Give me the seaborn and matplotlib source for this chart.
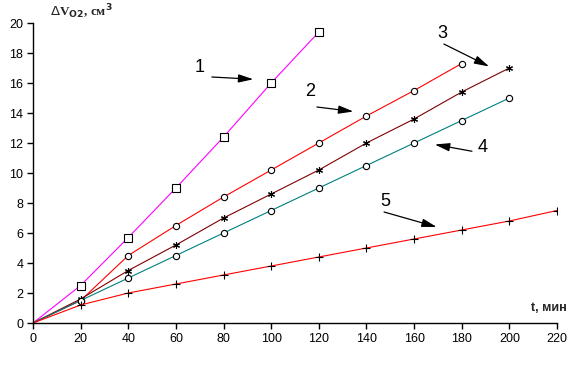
import matplotlib
matplotlib.use("Agg")
import matplotlib.pyplot as plt
import seaborn as sns
import pandas as pd

# ---- data ----
t1 = [0, 20, 40, 60, 80, 100, 120]
v1 = [0, 2.5, 5.7, 9.0, 12.4, 16.0, 19.4]

t2 = [0, 20, 40, 60, 80, 100, 120, 140, 160, 180]
v2 = [0, 1.5, 4.5, 6.5, 8.4, 10.2, 12.0, 13.8, 15.5, 17.3]

t3 = [0, 20, 40, 60, 80, 100, 120, 140, 160, 180, 200]
v3 = [0, 1.6, 3.5, 5.2, 7.0, 8.6, 10.2, 12.0, 13.6, 15.4, 17.0]

t4 = [0, 20, 40, 60, 80, 100, 120, 140, 160, 180, 200]
v4 = [0, 1.5, 3.0, 4.5, 6.0, 7.5, 9.0, 10.5, 12.0, 13.5, 15.0]

t5 = [0, 20, 40, 60, 80, 100, 120, 140, 160, 180, 200, 220]
v5 = [0, 1.2, 2.0, 2.6, 3.2, 3.8, 4.4, 5.0, 5.6, 6.2, 6.8, 7.5]

x_ticks = list(range(0, 221, 20))
y_ticks = list(range(0, 21, 2))
curve_labels = ["1", "2", "3", "4", "5"]

sns.set_style("ticks")
plt.rcParams["font.family"] = ["Liberation Sans", "DejaVu Sans"]

fig = plt.figure(figsize=(5.78, 3.73), dpi=100)
W, H = 578, 373
ax = fig.add_axes([33 / W, 1 - 323 / H, (557 - 33) / W, (323 - 23) / H])

series = [
    (t1, v1, "#FF00FF", "s", 5.5, slice(1, None)),
    (t2, v2, "#FF0000", "o", 4.5, slice(1, None)),
    (t3, v3, "#800000", (6, 2, 0), 5, slice(1, None)),
    (t4, v4, "#008080", "o", 4.5, slice(1, None)),
    (t5, v5, "#FF0000", "+", 5.5, None),
]
for t, v, c, m, ms, me in series:
    df = pd.DataFrame({"t": t, "v": v})
    sns.lineplot(data=df, x="t", y="v", ax=ax, color=c, lw=0.8,
                 marker=m, markersize=ms, mfc="white", mec="black",
                 mew=0.8, markevery=me, estimator=None, zorder=3)

ax.set_xlim(0, 220)
ax.set_ylim(0, 20)
ax.set_xticks(x_ticks)
ax.set_yticks(y_ticks)
ax.set_xlabel("")
ax.set_ylabel("")
for s in ["top", "right"]:
    ax.spines[s].set_visible(False)
for s in ["left", "bottom"]:
    ax.spines[s].set_linewidth(1.0)
    ax.spines[s].set_color("black")
ax.tick_params(axis="both", direction="out", length=4, width=1,
               labelsize=9, pad=3, colors="black")

# axis titles
fig.text(50 / W, 1 - 16 / H, r"$\Delta$V$_{\mathbf{O2}}$, см$^{\mathbf{3}}$",
         fontsize=9.5, fontweight="bold", family=["Liberation Serif", "DejaVu Serif"],
         ha="left", va="baseline")
fig.text(567 / W, 1 - 311 / H, "t, мин", fontsize=9, fontweight="bold",
         ha="right", va="baseline")

# curve labels with arrows (data coords)
label_pos = [(70.1, 17.0), (116.3, 15.4), (171.7, 19.3), (188.9, 11.7), (147.8, 8.1)]
arrows = [((75.1, 16.4), (92.5, 16.25)),
          ((119.2, 14.4), (134.5, 14.1)),
          ((172.5, 18.6), (191.5, 17.1)),
          ((184.3, 11.45), (168.7, 11.9)),
          ((147.4, 7.4), (169.5, 6.4))]
for lab, (lx, ly), (a0, a1) in zip(curve_labels, label_pos, arrows):
    ax.text(lx, ly, lab, fontsize=13, ha="center", va="center", color="black",
            family=["Liberation Sans", "DejaVu Sans"])
    ax.annotate("", xy=a1, xytext=a0,
                arrowprops=dict(arrowstyle="-|>,head_length=0.9,head_width=0.25",
                                color="black", lw=0.9, shrinkA=0, shrinkB=0))

fig.savefig("out.png", dpi=100)
